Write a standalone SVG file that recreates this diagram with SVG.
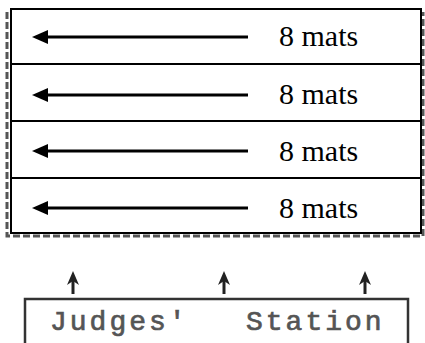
<svg xmlns="http://www.w3.org/2000/svg" width="425" height="343" viewBox="0 0 425 343">
<defs>
<style>
.mat{fill:#fff;stroke:#000;stroke-width:2}
.div{stroke:#000;stroke-width:2}
.arr{stroke:#000;stroke-width:3}
.lbl{font-family:"Liberation Serif","Times New Roman",serif;font-size:30px;fill:#000}
.dash{stroke:#555;stroke-width:3;stroke-dasharray:7 3;fill:none}
.js{font-family:"Liberation Mono","Courier New",monospace;font-size:28px;letter-spacing:3px;fill:#555;stroke:#555;stroke-width:0.7}
.up{stroke:#222;stroke-width:3}
.ahd{fill:#000}
.uhd{fill:#222}
</style>
</defs>
<g id="outline">
<path class="dash" d="M7,12 V236 H423 V12"/>
</g>
<g id="mats">
<rect class="mat" x="11" y="9" width="410" height="224"/>
<line class="div" x1="11" y1="64" x2="421" y2="64"/>
<line class="div" x1="11" y1="121" x2="421" y2="121"/>
<line class="div" x1="11" y1="178" x2="421" y2="178"/>
</g>
<g id="row1"><text class="lbl" x="279" y="46">8 mats</text></g>
<g id="row2"><text class="lbl" x="279" y="104">8 mats</text></g>
<g id="row3"><text class="lbl" x="279" y="161">8 mats</text></g>
<g id="row4"><text class="lbl" x="279" y="218">8 mats</text></g>
<g id="judges">
<path d="M25,343 V299 H408 V343" fill="none" stroke="#333" stroke-width="2.5"/>
<text class="js" y="330"><tspan x="50">Judges'</tspan> <tspan x="246">Station</tspan></text>
</g>
<g id="connectors">
<line class="arr" x1="248" y1="37" x2="46" y2="37"/>
<polygon class="ahd" points="32,37 48,30 48,44"/>
<line class="arr" x1="248" y1="95" x2="46" y2="95"/>
<polygon class="ahd" points="32,95 48,88 48,102"/>
<line class="arr" x1="248" y1="151" x2="46" y2="151"/>
<polygon class="ahd" points="32,151 48,144 48,158"/>
<line class="arr" x1="248" y1="208" x2="46" y2="208"/>
<polygon class="ahd" points="32,208 48,201 48,215"/>
<line class="up" x1="73" y1="294" x2="73" y2="278"/>
<polygon class="uhd" points="73,271 79,285 73,281 67,285"/>
<line class="up" x1="224" y1="294" x2="224" y2="278"/>
<polygon class="uhd" points="224,271 230,285 224,281 218,285"/>
<line class="up" x1="365" y1="294" x2="365" y2="278"/>
<polygon class="uhd" points="365,271 371,285 365,281 359,285"/>
</g>
</svg>
